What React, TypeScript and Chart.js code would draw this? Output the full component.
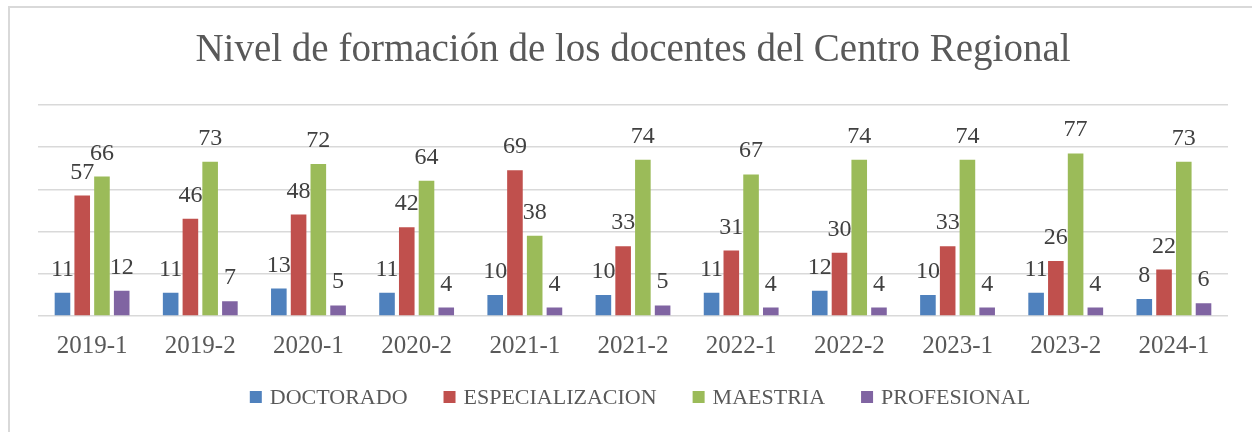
import React, { useEffect, useRef } from "react";
import { Chart, registerables } from "chart.js";

Chart.register(...registerables);

const categories = ["2019-1", "2019-2", "2020-1", "2020-2", "2021-1", "2021-2", "2022-1", "2022-2", "2023-1", "2023-2", "2024-1"];
const doctorado = [11, 11, 13, 11, 10, 10, 11, 12, 10, 11, 8];
const especializacion = [57, 46, 48, 42, 69, 33, 31, 30, 33, 26, 22];
const maestria = [66, 73, 72, 64, 38, 74, 67, 74, 74, 77, 73];
const profesional = [12, 7, 5, 4, 4, 5, 4, 4, 4, 4, 6];
const seriesNames = ["DOCTORADO", "ESPECIALIZACION", "MAESTRIA", "PROFESIONAL"];
const seriesColors = ["#4F81BD", "#C0504D", "#9BBB59", "#8064A2"];
const titleText = "Nivel de formación de los docentes del Centro Regional";

const FONT = "'Liberation Serif', 'Times New Roman', serif";

const dataLabelPlugin = {
  id: "dataLabels",
  afterDatasetsDraw(chart: any) {
    const ctx = chart.ctx;
    ctx.save();
    ctx.font = `24px ${FONT}`;
    ctx.fillStyle = "#404040";
    ctx.textAlign = "center";
    ctx.textBaseline = "alphabetic";
    chart.data.datasets.forEach((ds: any, i: number) => {
      const meta = chart.getDatasetMeta(i);
      meta.data.forEach((bar: any, j: number) => {
        ctx.fillText(String(ds.data[j]), bar.x, bar.y - 17);
      });
    });
    ctx.restore();
  },
};

const legendPlugin = {
  id: "customLegend",
  afterDraw(chart: any) {
    const ctx = chart.ctx;
    ctx.save();
    ctx.font = `22px ${FONT}`;
    const box = 12;
    const gapText = 8;
    const gapItem = 36;
    const widths = seriesNames.map((n) => ctx.measureText(n).width);
    const total = widths.reduce((a, w) => a + box + gapText + w, 0) + gapItem * (seriesNames.length - 1);
    let x = 640 - total / 2;
    const cy = 397;
    ctx.textBaseline = "middle";
    ctx.textAlign = "left";
    seriesNames.forEach((n, i) => {
      ctx.fillStyle = seriesColors[i];
      ctx.fillRect(x, cy - box / 2, box, box);
      ctx.fillStyle = "#595959";
      ctx.fillText(n, x + box + gapText, cy + 1);
      x += box + gapText + widths[i] + gapItem;
    });
    ctx.restore();
  },
};

export default function App() {
  const ref = useRef<HTMLCanvasElement>(null);
  useEffect(() => {
    if (!ref.current) return;
    const values = [doctorado, especializacion, maestria, profesional];
    const chart = new Chart(ref.current, {
      type: "bar",
      data: {
        labels: categories,
        datasets: seriesNames.map((name, i) => ({
          label: name,
          data: values[i],
          backgroundColor: seriesColors[i],
          borderWidth: 0,
          categoryPercentage: 0.73,
          barPercentage: 0.79,
        })),
      },
      options: {
        responsive: false,
        animation: false,
        devicePixelRatio: 1,
        layout: { padding: { left: 38, right: 24, top: 0, bottom: 56 } },
        plugins: {
          legend: { display: false },
          tooltip: { enabled: false },
          title: {
            display: true,
            text: titleText,
            color: "#595959",
            font: { family: FONT, size: 39, weight: "normal" },
            padding: { top: 27, bottom: 31 },
          },
        },
        scales: {
          x: {
            grid: { display: false, drawTicks: false },
            border: { display: false },
            ticks: {
              color: "#595959",
              font: { family: FONT, size: 25 },
              padding: 15,
              maxRotation: 0,
              autoSkip: false,
            },
          },
          y: {
            min: 0,
            max: 100,
            ticks: { display: false, stepSize: 20 },
            border: { display: false },
            grid: { color: "#d9d9d9", lineWidth: 1.5, drawTicks: false },
          },
        },
      },
      plugins: [dataLabelPlugin, legendPlugin],
    });
    return () => chart.destroy();
  }, []);

  return (
    <div style={{ position: "fixed", left: 0, top: 0, width: 1252, height: 432, background: "#fff", overflow: "hidden" }}>
      <div
        style={{
          position: "absolute",
          left: 8,
          top: 6,
          width: 1300,
          height: 500,
          borderLeft: "2px solid #d9d9d9",
          borderTop: "2px solid #d9d9d9",
        }}
      />
      <canvas ref={ref} width={1252} height={432} style={{ position: "absolute", left: 0, top: 0 }} />
    </div>
  );
}
